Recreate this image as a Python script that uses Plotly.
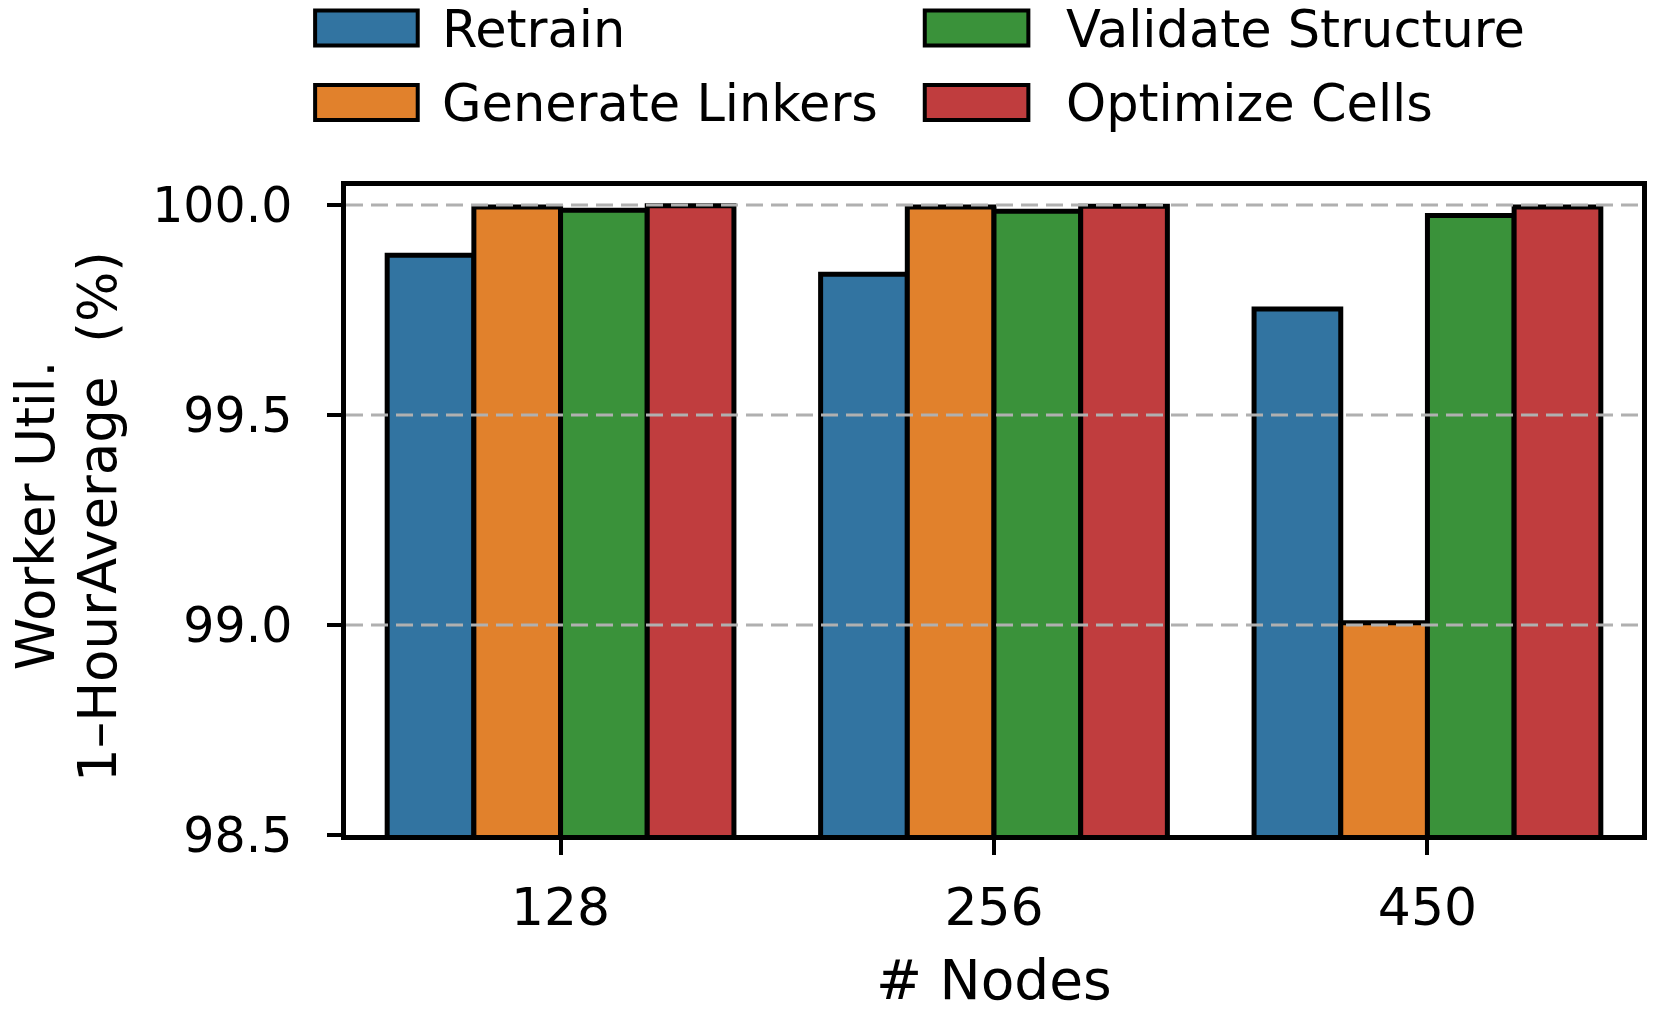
import plotly.graph_objects as go

# Data
nodes = ["128", "256", "450"]
retrain = [99.880, 99.835, 99.752]
generate_linkers = [99.995, 99.995, 99.005]
validate_structure = [99.987, 99.985, 99.975]
optimize_cells = [99.998, 99.997, 99.995]

series_names = ["Retrain", "Generate Linkers", "Validate Structure", "Optimize Cells"]
series_values = [retrain, generate_linkers, validate_structure, optimize_cells]
colors = ["#3274a1", "#e1812c", "#3a923a", "#c03d3e"]

y_ticks = [98.5, 99.0, 99.5, 100.0]
grid_vals = [99.0, 99.5, 100.0]

# page body has an 8px margin, so the figure is a bit smaller than the window
OFF = 8
W, H = 1661 - 2 * OFF, 1012 - 2 * OFF
# plot area in window pixels
L, R, T, B = 346 - OFF, 1647 - OFF, 186 - OFF, 835 - OFF
FONT = "DejaVu Sans"


def fx(x):
    # window pixel -> paper x
    return (x - OFF - L) / (R - L)


def fy(y):
    # window pixel -> paper y
    return (B - (y - OFF)) / (B - T)


fig = go.Figure()

for name, vals, col in zip(series_names, series_values, colors):
    fig.add_trace(go.Bar(
        x=nodes,
        y=vals,
        name=name,
        marker=dict(color=col, line=dict(color="black", width=5)),
        showlegend=False,
    ))

shapes = []
# dashed grid drawn above the bars, as in the reference
for g in grid_vals:
    shapes.append(dict(type="line", xref="paper", yref="y", x0=0, x1=1, y0=g, y1=g,
                       line=dict(color="#b0b0b0", width=3, dash="17px,8px"), layer="above"))

# hand-made legend (two columns)
annotations = []
legend_rows = [(28, 29), (102.5, 103)]  # (patch centre, text centre)
legend_cols = [(315, 418, 440), (927, 1031, 1067)]
for i, (name, col) in enumerate(zip(series_names, colors)):
    r, c = i % 2, i // 2
    yp, yt = legend_rows[r]
    x0, x1, xt = legend_cols[c]
    shapes.append(dict(type="rect", xref="paper", yref="paper",
                       x0=fx(x0), x1=fx(x1), y0=fy(yp + 17.5), y1=fy(yp - 17.5),
                       fillcolor=col, line=dict(color="black", width=4)))
    annotations.append(dict(text=name, xref="paper", yref="paper", x=fx(xt), y=fy(yt),
                            xanchor="left", yanchor="middle", showarrow=False,
                            font=dict(family=FONT, size=51, color="black")))

# y axis title, one annotation per line
for txt, xc in [("Worker Util.", 34), ("1–HourAverage\u00a0 (%)", 96)]:
    annotations.append(dict(text=txt, xref="paper", yref="paper",
                            x=fx(xc), y=fy(516), textangle=-90, showarrow=False,
                            xanchor="center", yanchor="middle",
                            font=dict(family=FONT, size=53, color="black")))

# x axis title
annotations.append(dict(text="# Nodes", xref="paper", yref="paper",
                        x=0.5, y=fy(980), showarrow=False,
                        xanchor="center", yanchor="middle",
                        font=dict(family=FONT, size=55, color="black")))

fig.update_layout(
    width=W, height=H,
    margin=dict(l=L, r=W - R, t=T, b=H - B),
    paper_bgcolor="white", plot_bgcolor="white",
    barmode="group", bargap=0.2, bargroupgap=0,
    font=dict(family=FONT, size=49, color="black"),
    shapes=shapes, annotations=annotations,
    showlegend=False,
)

fig.update_xaxes(
    range=[-0.495, 2.495],
    showline=True, linecolor="black", linewidth=4.5, mirror=True,
    ticks="outside", ticklen=15, tickwidth=4, tickcolor="black",
    showgrid=False,
    tickfont=dict(family=FONT, size=52),
    ticklabelstandoff=8,
)

fig.update_yaxes(
    range=[98.5, 100.045],
    tickvals=y_ticks, ticktext=[f"{v:.1f}" for v in y_ticks],
    showline=True, linecolor="black", linewidth=4.5, mirror=True,
    ticks="outside", ticklen=14, tickwidth=4, tickcolor="black",
    showgrid=False, zeroline=False,
    tickfont=dict(family=FONT, size=49),
    ticklabelstandoff=25,
)

fig.write_html("out.html")
